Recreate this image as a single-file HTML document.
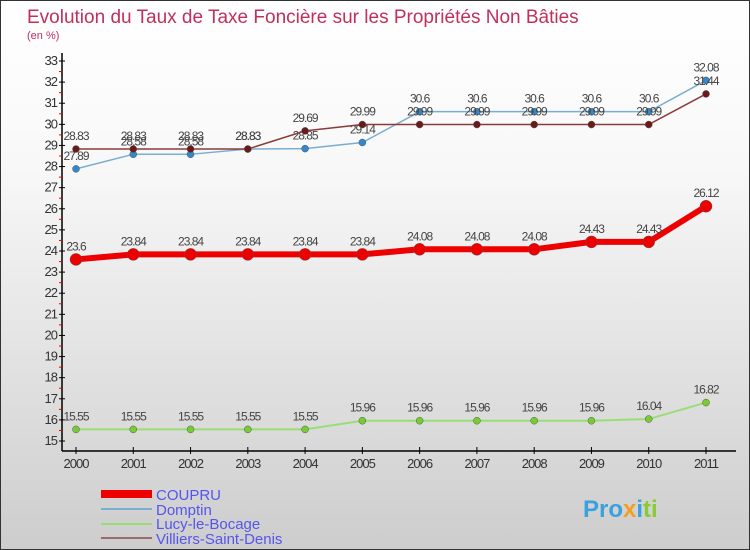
<!DOCTYPE html>
<html><head><meta charset="utf-8"><style>
body{margin:0}
#c{width:748px;height:548px;border:1px solid #333;background:linear-gradient(#fff,#f8f8f8 30%,#cdcdcd);position:relative;overflow:hidden;font-family:"Liberation Sans",sans-serif}
</style></head><body>
<div id="c">
<svg id="s" width="748" height="548" style="position:absolute;left:0;top:0" font-family="Liberation Sans, sans-serif">
<text x="26" y="22" font-size="19" fill="#c0305a">Evolution du Taux de Taxe Foncière sur les Propriétés Non Bâties</text>
<text x="26" y="38" font-size="11" fill="#c0305a">(en %)</text>
<g id="ax"></g><g id="ser"></g>
<g>
<rect x="100" y="489" width="51" height="8" fill="#e00"/>
<text x="155" y="499" font-size="15" fill="#5555ee">COUPRU</text>
<line x1="100" y1="508" x2="151" y2="508" stroke="#7aaed0" stroke-width="2"/>
<text x="155" y="514" font-size="15" fill="#5555ee">Domptin</text>
<line x1="100" y1="523" x2="151" y2="523" stroke="#99dd77" stroke-width="2"/>
<text x="155" y="528" font-size="15" fill="#5555ee">Lucy-le-Bocage</text>
<line x1="100" y1="537" x2="151" y2="537" stroke="#9a6b6b" stroke-width="2"/>
<text x="155" y="543" font-size="15" fill="#5555ee">Villiers-Saint-Denis</text>
</g>
<text x="582" y="516" font-size="24" font-weight="bold" fill="#3aa0e0">Pro<tspan fill="#f0a020">x</tspan><tspan fill="#3aa0e0">i</tspan><tspan fill="#88cc33">ti</tspan></text>
</svg>
</div>
<script>
const years=[2000,2001,2002,2003,2004,2005,2006,2007,2008,2009,2010,2011];
const coupru=[23.6,23.84,23.84,23.84,23.84,23.84,24.08,24.08,24.08,24.43,24.43,26.12];
const domptin=[27.89,28.58,28.58,28.83,28.85,29.14,30.6,30.6,30.6,30.6,30.6,32.08];
const lucy=[15.55,15.55,15.55,15.55,15.55,15.96,15.96,15.96,15.96,15.96,16.04,16.82];
const villiers=[28.83,28.83,28.83,28.83,29.69,29.99,29.99,29.99,29.99,29.99,29.99,31.44];
const yTicks=[15,16,17,18,19,20,21,22,23,24,25,26,27,28,29,30,31,32,33];
const NS="http://www.w3.org/2000/svg";
const xs=i=>75+i*(630/11);
const ys=v=>440-(v-15)*(380/18);
function mk(t,a,p){const e=document.createElementNS(NS,t);for(const k in a)e.setAttribute(k,a[k]);p.appendChild(e);return e;}
const ax=document.getElementById('ax'),ser=document.getElementById('ser');
mk('line',{x1:61,y1:52,x2:61,y2:450,stroke:'#000','stroke-width':1.5},ax);
mk('line',{x1:61,y1:450,x2:735,y2:450,stroke:'#000','stroke-width':1.5},ax);
yTicks.forEach(v=>{const y=ys(v);
 mk('line',{x1:58,y1:y,x2:64,y2:y,stroke:'#000'},ax);
 if(v<33)mk('line',{x1:58,y1:y-380/36,x2:61,y2:y-380/36,stroke:'#e00'},ax);
 const t=mk('text',{x:56,y:y+4,'font-size':13,fill:'#333','text-anchor':'end','letter-spacing':-1},ax);t.textContent=v;
 
 });
years.forEach((yr,i)=>{const x=xs(i);
 mk('line',{x1:x,y1:446,x2:x,y2:453,stroke:'#000'},ax);
 const t=mk('text',{x:x,y:467,'font-size':13,fill:'#333','text-anchor':'middle','letter-spacing':-1},ax);t.textContent=yr;
 
 });
function series(d,name,col,dot,w,r,fs){
 const g=mk('g',{},ser);
 
 
 mk('polyline',{points:d.map((v,i)=>xs(i)+','+ys(v)).join(' '),fill:'none',stroke:col,'stroke-width':w},g);
 d.forEach((v,i)=>{const c=mk('circle',{cx:xs(i),cy:ys(v),r:r,fill:dot,stroke:'#555','stroke-width':0.5},g);
  
  
  const t=mk('text',{x:xs(i),y:ys(v)-9,'font-size':fs,fill:'#444','text-anchor':'middle','letter-spacing':-1},g);t.textContent=v;});
}
series(lucy,'lucy-le-bocage-line','#99dd77','#77cc33',2,3.5,12);
series(domptin,'domptin-line','#7aaed0','#3388cc',1.5,3.5,12);
series(villiers,'villiers-line','#8b3a3a','#6b1a1a',1.5,3.5,12);
series(coupru,'coupru-line','#ee0000','#ee0000',6,6,12);
</script>
</body></html>
